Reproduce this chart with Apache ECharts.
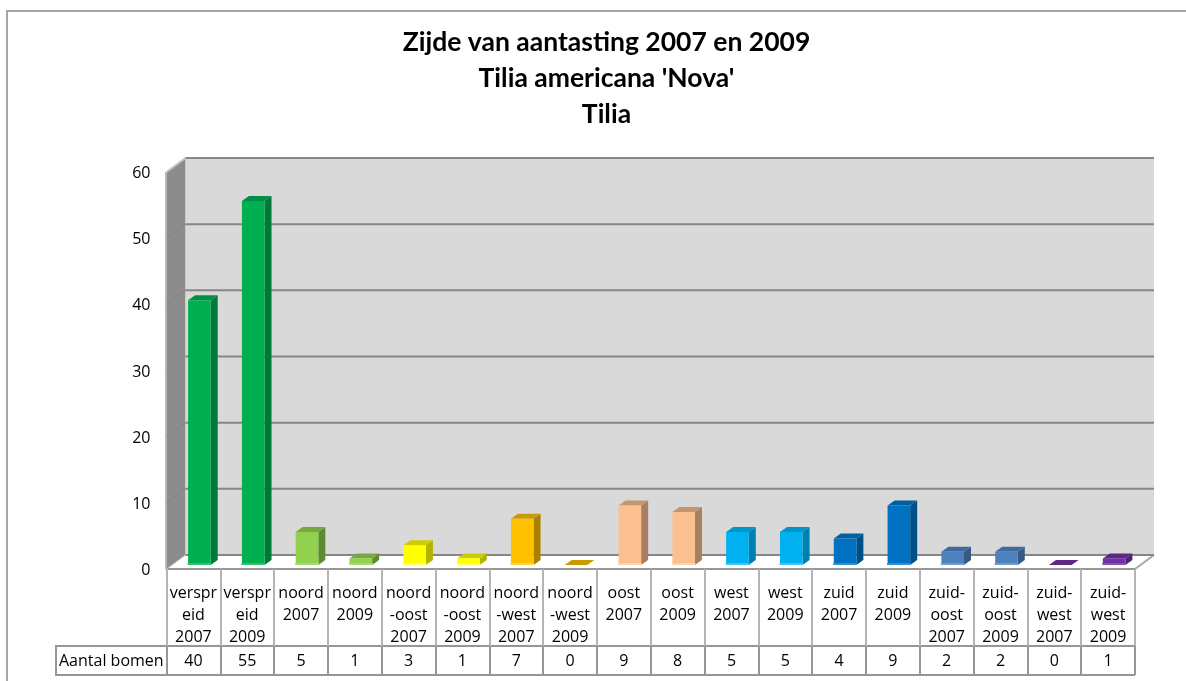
<!DOCTYPE html>
<html><head><meta charset="utf-8">
<script src="https://cdn.jsdelivr.net/npm/echarts@6/dist/echarts.min.js"></script>
<style>html,body{margin:0;padding:0;background:#fff}#c{width:1186px;height:681px}</style>
</head><body><div id="c"></div>
<script>
const categories = ['verspr\neid\n2007','verspr\neid\n2009','noord\n2007','noord\n2009','noord\n-oost\n2007','noord\n-oost\n2009','noord\n-west\n2007','noord\n-west\n2009','oost\n2007','oost\n2009','west\n2007','west\n2009','zuid\n2007','zuid\n2009','zuid-\noost\n2007','zuid-\noost\n2009','zuid-\nwest\n2007','zuid-\nwest\n2009'];
const values = [40,55,5,1,3,1,7,0,9,8,5,5,4,9,2,2,0,1];
const yTicks = [0,10,20,30,40,50,60];
const titleLines = ['Zijde van aantasting 2007 en 2009',"Tilia americana 'Nova'",'Tilia'];
const rowName = 'Aantal bomen';
const fronts = ['#00b050','#00b050','#92d050','#92d050','#ffff00','#ffff00','#ffc000','#ffc000','#fac090','#fac090','#00b0f0','#00b0f0','#0070c0','#0070c0','#4f81bd','#4f81bd','#7030a0','#7030a0'];
const sides = ['#007a38','#007a38','#5f8a35','#5f8a35','#b3b300','#b3b300','#a98000','#a98000','#a87f60','#a87f60','#0080ad','#0080ad','#004f88','#004f88','#355a85','#355a85','#4e2270','#4e2270'];
const tops = ['#009045','#009045','#76a83f','#76a83f','#cccc00','#cccc00','#c99a00','#c99a00','#c4966f','#c4966f','#0096cc','#0096cc','#005fa3','#005fa3','#3f6a9e','#3f6a9e','#5c2785','#5c2785'];
const bases = ['#33c070','#33c070','#a8da70','#a8da70','#ffff66','#ffff66','#ffd040','#ffd040','#fcd2ac','#fcd2ac','#40c4f4','#40c4f4','#3090d0','#3090d0','#6f9acb','#6f9acb','#8a50b4','#8a50b4'];
const DX = 19, DY = -14, FONT = 'Open Sans', FS = 16;
const poly = (pts, fill, stroke, w) => ({type:'polygon',shape:{points:pts},style:{fill:fill,stroke:stroke||null,lineWidth:w||0}});
const line = (a,b,c,w) => ({type:'line',shape:{x1:a[0],y1:a[1],x2:b[0],y2:b[1]},style:{stroke:c,lineWidth:w||1}});

function renderWalls(p, api){
  const band = api.size([1,0])[0];
  const l = api.coord([0,0])[0]-band/2, r = api.coord([categories.length-1,0])[0]+band/2;
  const y0 = api.coord([0,0])[1], yT = api.coord([0,yTicks[yTicks.length-1]])[1];
  const ch = [
    poly([[l,yT],[l+DX,yT+DY],[l+DX,y0+DY],[l,y0]],'#8c8c8c'),
    poly([[l+DX,yT+DY],[r+DX,yT+DY],[r+DX,y0+DY],[l+DX,y0+DY]],'#d9d9d9'),
    line([l,y0],[l+DX,y0+DY],'#bfbfbf',1),
    line([l,yT],[l+DX,yT+DY],'#c4c4c4',2),
    line([l-0.5,yT],[l-0.5,y0],'#b8b8b8',2),
    line([l+DX,yT+DY],[l+DX,y0+DY],'#c8c8c8',1),
    line([r,y0],[r+DX,y0+DY],'#a6a6a6',2)
  ];
  yTicks.forEach(t=>{
    const y = api.coord([0,t])[1];
    ch.push(line([l+DX,y+DY],[r+DX,y+DY],'#868686',2));
    if(t>0 && t<60) ch.push(line([l,y],[l+DX,y+DY],'#848484',1));
  });
  return {type:'group',silent:true,children:ch};
}
function renderBar(p, api){
  const i = api.value(0), v = api.value(1);
  const c = api.coord([i,v]), c0 = api.coord([i,0]);
  const w = api.size([1,0])[0]*0.42, ox = 6, oy = -4, dx = 7, dy = -5;
  const x1 = c[0]-w/2+ox, x2 = x1+w, yt = c[1]+oy, yb = c0[1]+oy;
  const ch = [
    poly([[x2,yt],[x2+dx,yt+dy],[x2+dx,yb+dy],[x2,yb]],sides[i]),
    poly([[x1,yt],[x1+dx,yt+dy],[x2+dx,yt+dy],[x2,yt]],tops[i])
  ];
  if(v>0){
    ch.push(poly([[x1,yt],[x2,yt],[x2,yb],[x1,yb]],fronts[i]));
    ch.push(poly([[x1-0.5,yb-2],[x2+0.5,yb-2],[x2+0.5,yb],[x1-0.5,yb]],bases[i]));
  }
  return {type:'group',children:ch};
}
const chart = echarts.init(document.getElementById('c'),null,{renderer:'canvas'});
chart.setOption({
  animation:false,
  backgroundColor:'#fff',
  title:{text:titleLines.join('\n'),left:601.5,top:19,textAlign:'center',
    textStyle:{fontFamily:'Lato',fontWeight:'bold',fontSize:26.5,lineHeight:36,color:'#000'}},
  grid:{left:166.5,top:172,width:968.5,height:397},
  xAxis:[
    {type:'category',data:categories,position:'bottom',
     axisLine:{lineStyle:{color:'#969696',width:2}},
     axisTick:{show:true,length:77,alignWithLabel:false,lineStyle:{color:'#b4b4b4',width:2}},
     axisLabel:{interval:0,margin:13,verticalAlign:'top',fontFamily:FONT,fontSize:FS,lineHeight:22,color:'#000'}},
    {type:'category',data:values.map(String),position:'bottom',offset:77,
     axisLine:{lineStyle:{color:'#969696',width:2}},
     axisTick:{show:true,length:29,alignWithLabel:false,lineStyle:{color:'#969696',width:2}},
     axisLabel:{interval:0,margin:6,verticalAlign:'top',fontFamily:FONT,fontSize:FS,lineHeight:18,color:'#000'}}
  ],
  yAxis:{type:'value',min:0,max:60,interval:10,
    axisLine:{show:false},axisTick:{show:false},splitLine:{show:false},
    axisLabel:{margin:16,fontFamily:FONT,fontSize:FS,color:'#000',verticalAlign:'top',lineHeight:3}},
  series:[
    {type:'custom',coordinateSystem:'cartesian2d',renderItem:renderWalls,data:[[0,0]],clip:false,z:1,silent:true},
    {type:'custom',coordinateSystem:'cartesian2d',renderItem:renderBar,encode:{x:0,y:1},
     data:values.map((v,i)=>[i,v]),clip:false,z:2}
  ],
  graphic:[
    {type:'polyline',shape:{points:[[1186,11],[7,11],[7,681]]},style:{fill:null,stroke:'#a6a6a6',lineWidth:2},silent:true},
    {type:'polyline',shape:{points:[[166,646],[56,646],[56,675],[1135,675]]},style:{fill:null,stroke:'#969696',lineWidth:2},silent:true},
    {type:'text',left:59,top:653,style:{text:rowName,font:FS+'px "'+FONT+'"',fill:'#000'}}
  ]
});
</script></body></html>
